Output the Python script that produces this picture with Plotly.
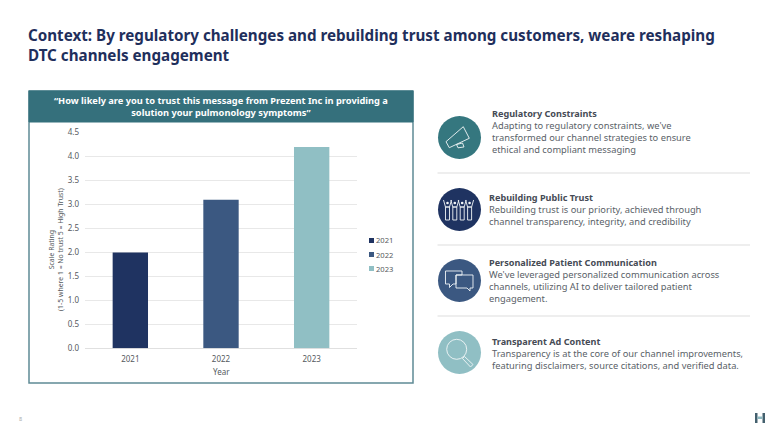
import plotly.graph_objects as go

W, H = 780, 439
years = ["2021", "2022", "2023"]
scores = [2.0, 3.1, 4.2]
bar_colors = ["#1f3361", "#3b5881", "#90bfc4"]
y_ticks = [0, 0.5, 1, 1.5, 2, 2.5, 3, 3.5, 4, 4.5]
title_lines = ["Context: By regulatory challenges and rebuilding trust among customers, weare reshaping",
               "DTC channels engagement"]
header_lines = ["“How likely are you to trust this message from Prezent Inc in providing a",
                "solution your pulmonology symptoms”"]
y_title = "Scale Rating<br>(1-5 where 1 = No trust 5 = High Trust)"
x_title = "Year"
items = [
    ("Regulatory Constraints", ["Adapting to regulatory constraints, we've",
                                "transformed our channel strategies to ensure",
                                "ethical and compliant messaging"], 492, 131.5, "#35777f", 137.5),
    ("Rebuilding Public Trust", ["Rebuilding trust is our priority, achieved through",
                                 "channel transparency, integrity, and credibility"], 489, 209, "#1f3361", 209.5),
    ("Personalized Patient Communication", ["We've leveraged personalized communication across",
                                            "channels, utilizing AI to deliver tailored patient",
                                            "engagement."], 489, 280.5, "#3b5881", 280.5),
    ("Transparent Ad Content", ["Transparency is at the core of our channel improvements,",
                                "featuring disclaimers, source citations, and verified data."], 492, 353, "#90bfc4", 352.5),
]
FONT = "Noto Sans"
NAVY, TEAL, TXT, GRAY = "#1f2f5c", "#35707c", "#5a5f68", "#555a60"


def px(x): return x / W
def py(y): return 1 - y / H


def path(points, close=True):
    s = "M" + " L".join(f"{px(x):.5f},{py(y):.5f}" for x, y in points)
    return s + (" Z" if close else "")


shapes, annos = [], []


def rect(x0, y0, x1, y1, fill="rgba(0,0,0,0)", line=None, lw=0, layer="below"):
    shapes.append(dict(type="rect", xref="paper", yref="paper", x0=px(x0), x1=px(x1), y0=py(y0), y1=py(y1),
                       fillcolor=fill, line=dict(color=line or fill, width=lw), layer=layer))


def oval(cx, cy, r, fill="rgba(0,0,0,0)", line=None, lw=0):
    shapes.append(dict(type="circle", xref="paper", yref="paper", x0=px(cx - r), x1=px(cx + r), y0=py(cy - r), y1=py(cy + r),
                       fillcolor=fill, line=dict(color=line or fill, width=lw), layer="above"))


def stroke(points, close=True, lw=0.9, color="#f2f6f7"):
    shapes.append(dict(type="path", xref="paper", yref="paper", path=path(points, close),
                       line=dict(color=color, width=lw), layer="above"))


def text(x, y, s, size, color, anchor="left", angle=0):
    annos.append(dict(xref="paper", yref="paper", x=px(x), y=py(y), text=s, showarrow=False,
                      xanchor=anchor, yanchor="middle", align=anchor, textangle=angle,
                      font=dict(family=FONT, size=size, color=color), borderpad=0, borderwidth=0))


# slide title
text(28, 45, "<b>" + "<br>".join(title_lines) + "</b>", 15.2, NAVY)

# chart panel and header
rect(29, 91, 413, 383, "#ffffff", "#5f8b95", 1.5)
rect(29, 91, 413, 122, TEAL, TEAL, 1)
text(221, 106.5, "<b>" + "<br>".join(header_lines) + "</b>", 9.25, "#ffffff", "center")

# axis titles
text(56, 249, y_title, 6.9, GRAY, "center", -90)
text(221, 371, x_title, 8, GRAY, "center")

# legend key
for y, yr, c in zip((240.5, 254.5, 268.5), years, bar_colors):
    rect(369, y - 2.5, 374, y + 2.5, c)
    text(375.5, y, yr, 7.6, GRAY)

# right-hand items
for head, lines, x, y, color, cy in items:
    oval(459.5, cy, 21.5, color)
    body = f'<span style="color:#464b55;font-size:9.1px"><b>{head}</b></span><br>' + "<br>".join(lines)
    text(x, y, body, 9.3, TXT)

for y in (173, 245, 316):
    shapes.append(dict(type="line", xref="paper", yref="paper", x0=px(437.5), x1=px(750), y0=py(y), y1=py(y),
                       line=dict(color="#dddddd", width=1)))

# icon: megaphone
stroke([(446, 141.7), (463.3, 126.7), (469.3, 138.3), (449.3, 147.7)])
stroke([(456.5, 144.5), (458, 147.8), (464, 147), (462.5, 143)])
# icon: raised hands
for cx in (447.5, 454.8, 462.2, 469.6):
    stroke([(cx - 2, 207), (cx - 2, 220), (cx + 2, 220), (cx + 2, 207)])
    stroke([(cx - 4, 200), (cx - 2, 207), (cx + 2, 207), (cx + 4, 200)], False)
    oval(cx, 203, 1.3, "#f2f6f7")
# icon: chat bubbles
stroke([(445.5, 271), (462, 271), (462, 275), (456, 275), (456, 284), (453, 284), (449.5, 287.5), (449.5, 284), (445.5, 284)])
stroke([(456, 275), (473, 275), (473, 288), (470, 288), (470, 291), (467, 288), (456, 288)])
# icon: magnifier
oval(456.7, 349.3, 10, "rgba(0,0,0,0)", "#f2f6f7", 0.9)
stroke([(464.5, 356.5), (473, 364.5), (470.5, 367), (462.5, 358.5)])

# footer
text(20, 418.5, "8", 5.5, "#aaaaaa", "center")
rect(755, 413, 757.5, 423, "#44606e")
rect(762.5, 413, 765, 423, "#44606e")
rect(757.5, 416.5, 762.5, 419, "#8fb9c0")

fig = go.Figure()
for yr, val, c in zip(years, scores, bar_colors):
    fig.add_trace(go.Bar(x=[yr], y=[val], name=yr, marker=dict(color=c, line_width=0), width=0.39, showlegend=False))

fig.update_layout(
    width=W, height=H, margin=dict(l=0, r=0, t=0, b=0, autoexpand=False), autosize=False,
    paper_bgcolor="#ffffff", plot_bgcolor="rgba(0,0,0,0)", barmode="overlay",
    shapes=shapes, annotations=annos, showlegend=False,
    font=dict(family=FONT, color=GRAY),
    xaxis=dict(domain=[px(85), px(357)], type="category", categoryorder="array", categoryarray=years,
               automargin=False, showgrid=False, showline=False, zeroline=False, ticks="", ticklabelstandoff=5,
               tickfont=dict(size=8, color=GRAY)),
    yaxis=dict(domain=[py(348.3), py(132.5)], range=[0, 4.5], tickvals=y_ticks, tickformat=".1f",
               automargin=False, showgrid=True, gridcolor="#e8e8e8", gridwidth=1, zeroline=True, zerolinecolor="#e0e0e0", zerolinewidth=1,
               showline=False, ticks="", ticklabelstandoff=5, tickfont=dict(size=8, color=GRAY)),
)
fig.write_html("out.html", config=dict(displayModeBar=False), post_script="document.body.style.margin='0';")
